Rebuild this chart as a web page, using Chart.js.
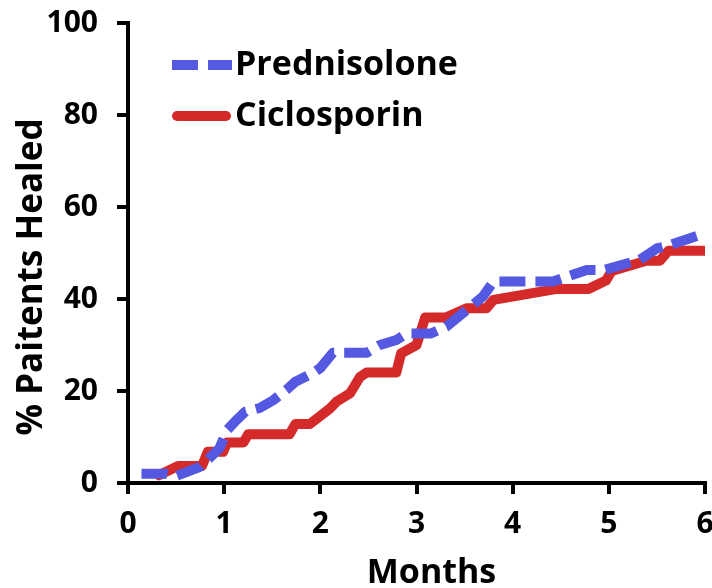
<!DOCTYPE html>
<html>
<head>
<meta charset="utf-8">
<script src="https://cdn.jsdelivr.net/npm/chart.js@4/dist/chart.umd.min.js"></script>
<style>
  html, body { margin: 0; padding: 0; background: #fff; }
  #wrap { width: 712px; height: 588px; }
</style>
</head>
<body>
<div id="wrap"><canvas id="healChart"></canvas></div>
<script>
// Months (x) and % healed (y)
const predMonths = [0.14, 0.4, 0.5, 0.75, 0.95, 1.03, 1.12, 1.22, 1.37, 1.51, 1.65, 1.74, 1.93, 2.0, 2.13, 2.48, 2.62, 2.79, 2.9, 3.15, 3.31, 3.69, 3.8, 4.42, 4.77, 4.95, 5.32, 5.5, 5.63, 6.0];
const predValues = [2, 2, 1.5, 3.5, 7.5, 11.5, 13.5, 15.5, 16.3, 18, 20.3, 22, 24, 25, 28.3, 28.3, 30, 31.1, 32.5, 32.5, 34, 40.5, 43.8, 43.8, 46.3, 46.3, 48.5, 51, 51.7, 54.3];

const cicloMonths = [0.32, 0.52, 0.77, 0.83, 0.99, 1.03, 1.2, 1.25, 1.68, 1.74, 1.89, 2.1, 2.17, 2.31, 2.41, 2.48, 2.79, 2.84, 3.0, 3.09, 3.31, 3.52, 3.73, 3.8, 4.46, 4.79, 4.97, 5.03, 5.39, 5.53, 5.62, 6.0];
const cicloValues = [1.7, 3.7, 3.7, 6.8, 6.8, 8.8, 8.8, 10.6, 10.6, 12.8, 12.8, 16.2, 17.7, 19.5, 23, 24, 24, 28.2, 30, 36, 36, 38, 38, 39.8, 42.2, 42.2, 44, 46.1, 48.3, 48.3, 50.5, 50.5];

const seriesNames = ['Prednisolone', 'Ciclosporin'];
const xTicks = [0, 1, 2, 3, 4, 5, 6];
const yTicks = [0, 20, 40, 60, 80, 100];
const xTitle = 'Months';
const yTitle = '% Paitents Healed';

const FONT = '"Open Sans", "DejaVu Sans", sans-serif';
const BLUE = '#5558e0';
const RED = '#d42a2a';

function toPoints(xs, ys) {
  return xs.map((x, i) => ({ x: x, y: ys[i] }));
}

// Legend inside the plot (top-left) and the two axis titles,
// which sit a little off the axis centres in the original
const decorations = {
  id: 'decorations',
  afterDraw(chart) {
    const ctx = chart.ctx;
    const area = chart.chartArea;
    const rows = [65, 116];
    ctx.save();
    chart.data.datasets.forEach((ds, i) => {
      const y = rows[i];
      ctx.beginPath();
      ctx.lineWidth = ds.borderWidth;
      ctx.strokeStyle = ds.borderColor;
      ctx.lineCap = ds.borderCapStyle;
      ctx.setLineDash(ds.borderDash || []);
      if (ds.borderCapStyle === 'round') {
        ctx.moveTo(177, y);
        ctx.lineTo(226, y);
      } else {
        ctx.moveTo(172, y);
        ctx.lineTo(232, y);
      }
      ctx.stroke();
      ctx.setLineDash([]);
      ctx.fillStyle = '#000';
      ctx.font = 'bold 34px ' + FONT;
      ctx.textBaseline = 'middle';
      ctx.textAlign = 'left';
      ctx.fillText(ds.label, 235, y);
    });

    // x title
    ctx.fillStyle = '#000';
    ctx.font = 'bold 34px ' + FONT;
    ctx.textAlign = 'center';
    ctx.textBaseline = 'alphabetic';
    ctx.fillText(xTitle, (area.left + area.right) / 2 + 15, 583);

    // y title
    ctx.translate(42, (area.top + area.bottom) / 2 + 24);
    ctx.rotate(-Math.PI / 2);
    ctx.font = 'bold 35px ' + FONT;
    ctx.fillText(yTitle, 0, 0);
    ctx.restore();
  }
};

new Chart(document.getElementById('healChart'), {
  type: 'line',
  data: {
    datasets: [
      {
        label: seriesNames[0],
        data: toPoints(predMonths, predValues),
        borderColor: BLUE,
        borderWidth: 10,
        borderDash: [26, 10],
        borderCapStyle: 'butt',
        borderJoinStyle: 'round',
        pointRadius: 0,
        tension: 0,
        fill: false
      },
      {
        label: seriesNames[1],
        data: toPoints(cicloMonths, cicloValues),
        borderColor: RED,
        borderWidth: 10,
        borderCapStyle: 'round',
        borderJoinStyle: 'round',
        pointRadius: 0,
        tension: 0,
        fill: false
      }
    ]
  },
  options: {
    responsive: true,
    maintainAspectRatio: false,
    animation: false,
    layout: { padding: { top: 23, right: 7, bottom: 0, left: 0 } },
    plugins: {
      legend: { display: false },
      tooltip: { enabled: false }
    },
    scales: {
      x: {
        type: 'linear',
        min: 0,
        max: 6,
        afterBuildTicks: axis => { axis.ticks = xTicks.map(v => ({ value: v })); },
        afterFit: axis => { axis.height = 105; axis.paddingLeft = 0; axis.paddingRight = 0; },
        border: { display: true, color: '#000', width: 4 },
        grid: { drawOnChartArea: false, drawTicks: true, tickLength: 11, color: '#000', lineWidth: 4 },
        ticks: { color: '#000', padding: 12, font: { family: FONT, size: 30, weight: 'bold' } },
        title: { display: false }
      },
      y: {
        min: 0,
        max: 100,
        afterBuildTicks: axis => { axis.ticks = yTicks.map(v => ({ value: v })); },
        afterFit: axis => { axis.width = 128; axis.paddingTop = 0; axis.paddingBottom = 0; },
        border: { display: true, color: '#000', width: 4 },
        grid: { drawOnChartArea: false, drawTicks: true, tickLength: 11, color: '#000', lineWidth: 4 },
        ticks: { color: '#000', padding: 19, font: { family: FONT, size: 30, weight: 'bold' } },
        title: { display: false }
      }
    }
  },
  plugins: [decorations]
});
</script>
</body>
</html>
